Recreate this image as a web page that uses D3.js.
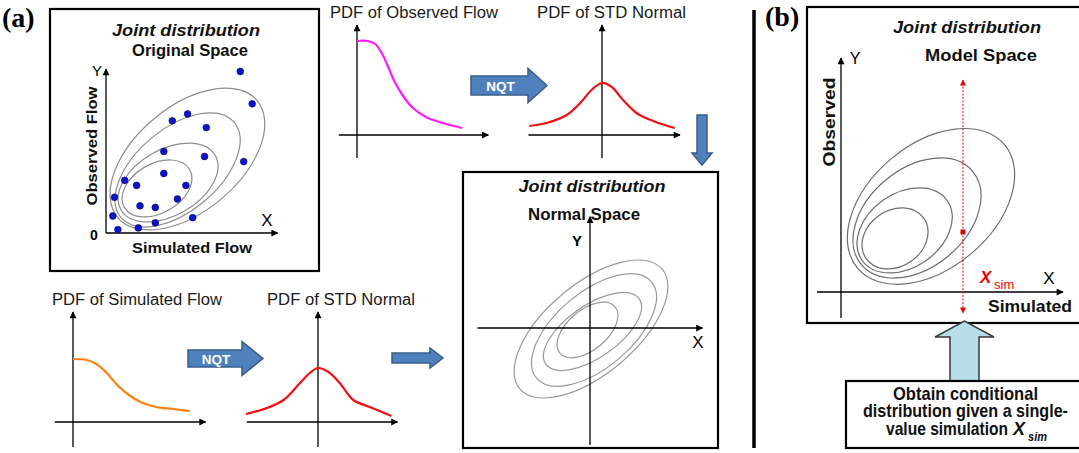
<!DOCTYPE html>
<html>
<head>
<meta charset="utf-8">
<script src="https://cdn.jsdelivr.net/npm/d3@7"></script>
<style>
  body { margin: 0; background: #fff; }
  svg { display: block; }
  text { font-family: "Liberation Sans", Arial, sans-serif; }
</style>
</head>
<body>
<svg id="svg" width="1079" height="453"></svg>
<script>
// ---------- data ----------
// scatter in original space: simulated flow (x) vs observed flow (y)
const obsSim = [7.9, 8.6, 4.8, 3.9, 5.9, 3.4, 5.8, 8.1, 3.4, 1.1, 1.8, 4.7, 0.5, 4.2, 2.0, 2.9, 0.4, 5.1, 2.9, 0.7, 1.9];
const obsObs = [9.5, 7.6, 7.0, 6.6, 6.2, 4.8, 4.5, 4.2, 3.5, 3.1, 2.8, 2.8, 2.1, 2.0, 1.6, 1.5, 1.0, 0.9, 0.6, 0.2, 0.3];

// contour ellipses: [cx, cy, rx, ry, angle]
const origContours = [[4.79, 4.35, 5.35, 3.08, 40], [4.21, 3.71, 4.35, 2.42, 40], [3.65, 2.97, 3.2, 1.94, 30], [3.0, 2.62, 2.22, 1.45, 30]];
const normalContours = [[0.04, -0.04, 3.72, 1.8, 40], [0.16, -0.08, 3.0, 1.52, 40], [0.1, -0.14, 2.28, 1.04, 35], [-0.1, -0.08, 1.44, 0.8, 40]];
const modelContours = [[4.5, 4.28, 4.8, 3.1, 40], [3.8, 3.7, 3.63, 2.46, 40], [3.18, 3.08, 2.6, 1.85, 35], [2.7, 2.68, 1.76, 1.4, 35]];

// pdf curves [x, density]
const pdfObserved = [[0, 0.94], [0.08, 0.94], [0.14, 0.91], [0.19, 0.82], [0.24, 0.68], [0.29, 0.53], [0.36, 0.38], [0.43, 0.27], [0.53, 0.18], [0.66, 0.12], [0.81, 0.07]];
const pdfNormalTop = [[-0.97, 0.09], [-0.74, 0.12], [-0.47, 0.2], [-0.29, 0.32], [-0.14, 0.45], [0, 0.52], [0.13, 0.48], [0.28, 0.35], [0.46, 0.22], [0.68, 0.14], [0.97, 0.07]];
const pdfSimulated = [[0, 0.63], [0.105, 0.62], [0.18, 0.58], [0.26, 0.49], [0.34, 0.37], [0.43, 0.27], [0.52, 0.2], [0.64, 0.15], [0.77, 0.13], [0.9, 0.11]];
const pdfNormalBottom = [[-0.96, 0.08], [-0.68, 0.14], [-0.46, 0.22], [-0.24, 0.39], [-0.11, 0.49], [0, 0.54], [0.14, 0.5], [0.29, 0.39], [0.47, 0.22], [0.69, 0.15], [0.98, 0.06]];

// conditioning value in model space
const xSim = 6.1;
const xSimPoint = 3.0;
const xSimRange = [-1.05, 10.6];

// ---------- drawing ----------
const svg = d3.select("#svg");
const defs = svg.append("defs");

function marker(id, color, w, h) {
  defs.append("marker")
    .attr("id", id)
    .attr("viewBox", "0 0 10 10")
    .attr("refX", 9)
    .attr("refY", 5)
    .attr("markerWidth", w)
    .attr("markerHeight", h)
    .attr("markerUnits", "userSpaceOnUse")
    .attr("orient", "auto")
    .append("path")
    .attr("d", "M0,0L10,5L0,10z")
    .attr("fill", color);
}
marker("arr", "#000", 9, 7);
marker("arrRed", "#e00", 7, 6);

function line(x1, y1, x2, y2, opts) {
  opts = opts || {};
  let l = svg.append("line")
    .attr("x1", x1).attr("y1", y1).attr("x2", x2).attr("y2", y2)
    .attr("stroke", opts.color || "#000")
    .attr("stroke-width", opts.width || 1.3);
  if (opts.arrow !== false) l.attr("marker-end", "url(#" + (opts.marker || "arr") + ")");
  if (opts.dash) l.attr("stroke-dasharray", opts.dash);
  return l;
}

function text(t, x, y, opts) {
  opts = opts || {};
  let el = svg.append("text")
    .attr("x", x).attr("y", y)
    .attr("font-size", opts.size || 16)
    .attr("font-weight", opts.bold ? "bold" : "normal")
    .attr("font-style", opts.italic ? "italic" : "normal")
    .attr("fill", opts.color || "#111")
    .attr("text-anchor", opts.anchor || "start")
    .text(t);
  if (opts.len) el.attr("textLength", opts.len).attr("lengthAdjust", "spacingAndGlyphs");
  if (opts.family) el.style("font-family", opts.family);
  if (opts.transform) el.attr("transform", opts.transform).attr("x", 0).attr("y", 0);
  return el;
}

function box(x, y, w, h, width) {
  svg.append("rect")
    .attr("x", x).attr("y", y).attr("width", w).attr("height", h)
    .attr("fill", "none").attr("stroke", "#000").attr("stroke-width", width || 2.2);
}

function contours(data, x, y, color) {
  svg.append("g")
    .selectAll("ellipse")
    .data(data)
    .enter()
    .append("ellipse")
    .attr("cx", (d) => x(d[0]))
    .attr("cy", (d) => y(d[1]))
    .attr("rx", (d) => x(d[2]) - x(0))
    .attr("ry", (d) => y(0) - y(d[3]))
    .attr("transform", (d) => "rotate(" + -d[4] + "," + x(d[0]) + "," + y(d[1]) + ")")
    .attr("fill", "none")
    .attr("stroke", color)
    .attr("stroke-width", 1.2);
}

// horizontal block arrow
function blockArrow(x0, x1, yMid, bodyH, headH, headLen, fill, stroke, label) {
  let xh = x1 - headLen;
  let pts = [
    [x0, yMid - bodyH / 2], [xh, yMid - bodyH / 2], [xh, yMid - headH / 2], [x1, yMid],
    [xh, yMid + headH / 2], [xh, yMid + bodyH / 2], [x0, yMid + bodyH / 2]
  ];
  svg.append("path")
    .attr("d", d3.line()(pts) + "Z")
    .attr("fill", fill).attr("stroke", stroke).attr("stroke-width", 1.5);
  if (label) text(label, (x0 + xh) / 2 + 1, yMid + 5, { size: 13.5, bold: true, color: "#fff", anchor: "middle" });
}

// vertical block arrow (down if tip below start)
function blockArrowV(xMid, yStart, yTip, bodyW, headW, headLen, fill, stroke) {
  let dir = yTip > yStart ? 1 : -1;
  let yh = yTip - dir * headLen;
  let pts = [
    [xMid - bodyW / 2, yStart], [xMid - bodyW / 2, yh], [xMid - headW / 2, yh], [xMid, yTip],
    [xMid + headW / 2, yh], [xMid + bodyW / 2, yh], [xMid + bodyW / 2, yStart]
  ];
  svg.append("path")
    .attr("d", d3.line()(pts) + "Z")
    .attr("fill", fill).attr("stroke", stroke).attr("stroke-width", 1.5);
}

// panel labels and divider
text("(a)", 2, 27, { size: 28, bold: true, family: "'Liberation Serif', 'Times New Roman', serif", color: "#000" });
text("(b)", 765, 26, { size: 28, bold: true, family: "'Liberation Serif', 'Times New Roman', serif", color: "#000" });
line(754, 10, 754, 448, { arrow: false, width: 3.5 });

// ---------- original space ----------
box(50, 9, 269, 262);
let ox = d3.scaleLinear().domain([0, 10]).range([106, 276]);
let oy = d3.scaleLinear().domain([0, 10]).range([233, 63]);
text("Joint distribution", 186, 36, { size: 16.5, bold: true, italic: true, anchor: "middle", len: 148 });
text("Original Space", 190, 56, { size: 16.5, bold: true, anchor: "middle", len: 116 });
contours(origContours, ox, oy, "#8c8c8c");
line(ox(0), oy(0), ox(0), oy(9.65));
line(ox(0), oy(0), ox(10.1), oy(0));
svg.append("g")
  .selectAll("circle")
  .data(obsSim.map((d, i) => [d, obsObs[i]]))
  .enter()
  .append("circle")
  .attr("cx", (d) => ox(d[0]))
  .attr("cy", (d) => oy(d[1]))
  .attr("r", 3.4)
  .attr("fill", "#0b12c8")
  .attr("stroke", "#06086e")
  .attr("stroke-width", 0.6);
text("Y", 97, 76, { size: 15, color: "#000", anchor: "middle" });
text("X", 267, 226, { size: 17, color: "#000", anchor: "middle" });
text("0", 94, 240, { size: 14, bold: true, color: "#000", anchor: "middle" });
text("Observed Flow", 0, 0, { size: 15, bold: true, anchor: "middle", len: 119, transform: "translate(97,146) rotate(-90)" });
text("Simulated Flow", 192, 253, { size: 15, bold: true, anchor: "middle", len: 120 });

// ---------- pdf panels ----------
function pdfPanel(ox0, oy0, sx, sy, xr, yr, data, color, title, tx, tlen) {
  let x = d3.scaleLinear().domain([0, 1]).range([ox0, ox0 + sx]);
  let y = d3.scaleLinear().domain([0, 1]).range([oy0, oy0 - sy]);
  line(x(xr[0]), y(0), x(xr[1]), y(0));
  line(x(0), y(yr[0]), x(0), y(yr[1]));
  svg.append("path")
    .datum(data)
    .attr("d", d3.line().x((d) => x(d[0])).y((d) => y(d[1])).curve(d3.curveCatmullRom))
    .attr("fill", "none")
    .attr("stroke", color)
    .attr("stroke-width", 2.2);
  text(title, tx, oy0 - sy - 17, { size: 16, color: "#1a1a1a", len: tlen });
}
pdfPanel(357, 135, 130, 100, [-0.14, 1.01], [-0.23, 1.1], pdfObserved, "#ff1aff", "PDF of Observed Flow", 330, 168);
pdfPanel(602, 135, 75, 100, [-0.98, 1.04], [-0.23, 1.1], pdfNormalTop, "#f01010", "PDF of STD Normal", 537, 149);
pdfPanel(73, 422, 130, 100, [-0.14, 1.02], [-0.25, 1.1], pdfSimulated, "#ff7f10", "PDF of Simulated Flow", 52, 170);
pdfPanel(318, 422, 75, 100, [-0.95, 1.06], [-0.25, 1.1], pdfNormalBottom, "#f01010", "PDF of STD Normal", 267, 148);

// arrows between panels
blockArrow(471, 547, 85.5, 19, 34, 19, "#4f81bd", "#385d8a", "NQT");
blockArrow(188, 263, 358.5, 17, 34, 21, "#4f81bd", "#385d8a", "NQT");
blockArrow(392, 443, 358, 10, 20, 13, "#4f81bd", "#385d8a");
blockArrowV(702, 115, 165, 10, 20, 12, "#4f81bd", "#385d8a");

// ---------- normal space ----------
box(463, 172, 255, 276);
let nx = d3.scaleLinear().domain([0, 1]).range([590, 615]);
let ny = d3.scaleLinear().domain([0, 1]).range([328, 303]);
text("Joint distribution", 592, 192, { size: 16.5, bold: true, italic: true, anchor: "middle", len: 147 });
text("Normal Space", 584, 220, { size: 16, bold: true, anchor: "middle", len: 112 });
contours(normalContours, nx, ny, "#9a9a9a");
line(nx(-4.5), ny(0), nx(4.5), ny(0));
line(nx(0), ny(-4.68), nx(0), ny(4.45));
text("Y", 577, 246, { size: 15, bold: true, color: "#000", anchor: "middle" });
text("X", 698, 348, { size: 17, color: "#000", anchor: "middle" });

// ---------- model space (b) ----------
box(807, 7, 290, 316);
let mx = d3.scaleLinear().domain([0, 1]).range([841, 861]);
let my = d3.scaleLinear().domain([0, 1]).range([292, 272]);
text("Joint distribution", 967, 33, { size: 16.5, bold: true, italic: true, anchor: "middle", len: 148 });
text("Model Space", 981, 61, { size: 16.5, bold: true, anchor: "middle", len: 112 });
contours(modelContours, mx, my, "#6e6e6e");
line(mx(-1.2), my(0), mx(11.1), my(0));
line(mx(0), my(-1.3), mx(0), my(11.7));
line(mx(xSim), my(xSimPoint), mx(xSim), my(xSimRange[1]), { color: "#e00", width: 1, marker: "arrRed", dash: "2,1.5" });
line(mx(xSim), my(xSimPoint), mx(xSim), my(xSimRange[0]), { color: "#e00", width: 1, marker: "arrRed", dash: "2,1.5" });
svg.append("rect")
  .attr("x", mx(xSim) - 2.5).attr("y", my(xSimPoint) - 2.5)
  .attr("width", 5).attr("height", 5)
  .attr("fill", "#d40000");
text("Y", 855, 64, { size: 16, color: "#000", anchor: "middle" });
text("X", 1049, 284, { size: 17, color: "#000", anchor: "middle" });
text("Observed", 0, 0, { size: 16, bold: true, anchor: "middle", len: 89, transform: "translate(835,122) rotate(-90)" });
text("Simulated", 1030, 312, { size: 16.5, bold: true, anchor: "middle", len: 84 });
text("X", 980, 283, { size: 17, bold: true, italic: true, color: "#e00" });
text("sim", 994, 289, { size: 13, color: "#e00" });

// conditional arrow and note box
blockArrowV(964.5, 381, 321, 29, 59, 16, "#b7dee8", "#3a3a3a");
box(846, 381, 260, 67, 2.2);
text("Obtain conditional", 965.5, 399.5, { size: 18.5, bold: true, anchor: "middle", len: 145 });
text("distribution given a single-", 965.5, 417, { size: 18.5, bold: true, anchor: "middle", len: 205 });
text("value simulation", 886, 435, { size: 18.5, bold: true, len: 122 });
text("X", 1013, 435, { size: 18, bold: true, italic: true });
text("sim", 1028, 441, { size: 13, bold: true, italic: true, len: 19 });
</script>
</body>
</html>
